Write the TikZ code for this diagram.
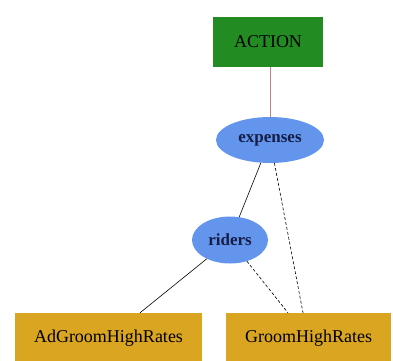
\documentclass[tikz,border=0pt]{standalone}
\usepackage{fontspec}
\setmainfont{Liberation Serif}
\usetikzlibrary{shapes.geometric}
\definecolor{actgreen}{RGB}{34,139,34}
\definecolor{ellblue}{RGB}{100,149,237}
\definecolor{boxgold}{RGB}{218,165,32}
\definecolor{ellink}{RGB}{22,30,70}
\definecolor{linkpink}{RGB}{196,128,128}
\tikzset{
  box/.style={rectangle, inner sep=0pt, font=\fontsize{18}{20}\selectfont, text=black},
  ell/.style={ellipse, inner sep=0pt, fill=ellblue, font=\fontsize{17}{19}\selectfont\bfseries, text=ellink},
  link/.style={draw=black, line width=0.6pt},
  dlink/.style={link, dash pattern=on 3pt off 2pt},
}
\begin{document}
\begin{tikzpicture}[x=1pt,y=-1pt]
  \useasboundingbox[fill=white] (0,0) rectangle (393,360);
  % nodes
  \node[box, fill=actgreen, minimum width=110pt, minimum height=50pt] (action) at (268,42) {ACTION};
  \node[ell, minimum width=108pt, minimum height=46pt] (expenses) at (270,140) {expenses};
  \node[ell, minimum width=76pt, minimum height=47pt] (riders) at (230,240) {riders};
  \node[box, fill=boxgold, minimum width=187pt, minimum height=50pt] (adg) at (108.5,338) {AdGroomHighRates};
  \node[box, fill=boxgold, minimum width=165pt, minimum height=50pt] (groom) at (308.5,338) {GroomHighRates};
  % connectors
  \draw[draw=linkpink, line width=0.8pt] (action.south -| expenses.north) -- (expenses.north);
  \draw[link] (expenses) -- (riders);
  \draw[dlink] (expenses) -- ([xshift=-5.5pt]groom.north);
  \draw[dlink] (riders) -- ([xshift=-20.5pt]groom.north);
  \draw[link] (riders) -- ([xshift=31.5pt]adg.north);
\end{tikzpicture}
\end{document}
